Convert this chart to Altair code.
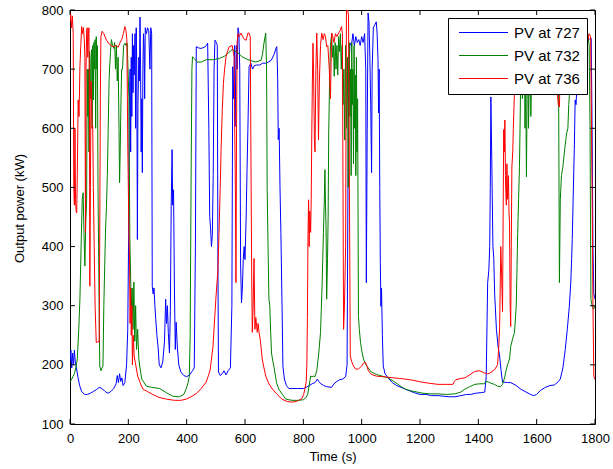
import altair as alt
import pandas as pd

# ---- data (time s, output power kW) ----
pv727 = [
(0,205),(3,225),(6,195),(9,220),(12,200),(15,225),(18,205),(22,195),(27,180),(33,165),(40,155),(50,150),(60,150),(70,152),(80,155),(90,158),(100,162),(110,160),(120,155),(130,152),(140,155),(150,160),(158,168),(162,182),(166,170),(170,185),(174,172),(178,178),(182,165),(188,170),(194,200),(198,260),(201,420),(203,620),(206,700),(208,560),(210,720),(212,620),(214,760),(216,660),(218,740),(220,690),(223,760),(225,600),(227,770),(229,700),(231,412),(233,640),(236,720),(238,680),(240,788),(242,700),(244,560),(246,650),(248,525),(250,700),(252,760),(254,740),(256,650),(258,770),(262,760),(266,770),(270,765),(274,700),(277,770),(280,760),(282,333),(285,320),(288,330),(291,300),(294,277),(298,250),(302,230),(306,200),(312,195),(318,205),(324,240),(328,311),(331,270),(334,300),(337,255),(341,220),(344,290),(347,470),(350,564),(352,470),(355,496),(358,330),(361,226),(364,272),(368,230),(373,200),(380,188),(390,182),(400,180),(410,183),(420,190),(426,195),(430,400),(433,738),(440,736),(450,735),(460,737),(468,740),(472,744),(476,600),(479,451),(482,430),(485,400),(488,420),(491,520),(494,700),(497,749),(502,745),(505,740),(507,400),(509,188),(515,182),(522,185),(528,190),(535,183),(542,190),(550,195),(555,300),(558,704),(561,650),(564,740),(566,603),(568,680),(570,740),(573,700),(576,770),(579,761),(582,700),(585,367),(588,305),(591,330),(594,378),(597,400),(600,378),(604,450),(607,530),(610,600),(614,704),(620,710),(626,700),(632,706),(640,707),(650,707),(660,710),(670,710),(680,712),(690,715),(700,725),(706,735),(709,738),(712,687),(714,581),(717,600),(720,500),(723,424),(727,300),(730,198),(735,176),(742,165),(750,160),(760,160),(780,160),(800,160),(810,162),(820,165),(830,168),(840,170),(848,176),(853,172),(860,168),(870,165),(880,163),(897,162),(905,168),(915,172),(925,175),(935,176),(945,180),(950,200),(953,500),(956,700),(960,744),(965,740),(970,760),(975,740),(980,755),(985,745),(990,750),(995,740),(1000,755),(1005,745),(1010,760),(1014,700),(1016,339),(1019,600),(1022,795),(1025,780),(1028,721),(1031,640),(1034,525),(1036,700),(1040,770),(1045,775),(1050,780),(1053,760),(1056,716),(1058,626),(1060,700),(1062,500),(1064,373),(1066,299),(1068,330),(1071,250),(1074,198),(1080,185),(1091,178),(1105,170),(1120,165),(1135,162),(1149,159),(1165,156),(1180,153),(1200,150),(1220,150),(1240,148),(1262,148),(1280,147),(1300,146),(1320,146),(1340,148),(1360,150),(1374,150),(1390,152),(1410,153),(1422,154),(1427,180),(1432,339),(1436,360),(1439,400),(1441,500),(1443,653),(1446,550),(1450,400),(1453,380),(1456,320),(1462,260),(1468,230),(1473,215),(1478,190),(1483,171),(1500,170),(1511,170),(1530,165),(1545,159),(1560,155),(1579,150),(1590,148),(1600,150),(1613,157),(1630,162),(1645,165),(1661,166),(1675,172),(1681,176),(1690,195),(1698,226),(1705,260),(1712,299),(1717,340),(1720,380),(1722,412),(1725,480),(1729,564),(1732,648),(1735,640),(1739,680),(1743,700),(1746,716),(1750,730),(1756,744),(1765,748),(1775,748),(1783,752),(1787,752),(1790,600),(1793,400),(1796,320),(1800,311)]

pv732 = [
(0,171),(5,175),(10,180),(15,185),(20,195),(25,210),(30,260),(34,311),(38,400),(42,480),(45,491),(48,420),(51,367),(54,440),(57,479),(59,700),(61,620),(63,700),(65,560),(67,730),(70,650),(72,720),(74,733),(76,600),(78,740),(80,648),(82,745),(84,700),(86,750),(88,600),(90,755),(92,700),(94,740),(96,500),(98,400),(100,300),(102,198),(106,190),(110,195),(113,198),(116,300),(119,367),(122,430),(125,468),(128,520),(131,600),(134,680),(136,704),(139,730),(142,750),(146,740),(150,735),(153,745),(156,700),(159,740),(162,680),(165,720),(168,600),(170,508),(172,560),(175,650),(177,700),(180,700),(184,740),(188,744),(192,740),(196,744),(199,700),(202,650),(205,420),(207,367),(210,300),(213,330),(216,260),(219,340),(222,240),(225,300),(228,226),(232,260),(236,210),(239,198),(243,185),(246,176),(254,170),(262,164),(280,162),(307,160),(330,153),(352,147),(375,146),(390,150),(398,159),(405,170),(409,181),(412,250),(415,500),(418,700),(420,721),(426,718),(436,712),(450,712),(467,716),(490,716),(512,718),(530,722),(556,733),(575,728),(590,721),(610,716),(637,712),(655,715),(660,725),(665,744),(671,761),(674,700),(676,500),(679,400),(682,311),(685,300),(688,255),(691,220),(694,210),(700,195),(708,170),(716,159),(728,150),(740,142),(761,140),(784,140),(800,141),(808,144),(815,150),(820,165),(825,181),(830,180),(835,181),(840,180),(846,190),(852,215),(859,255),(864,330),(869,424),(872,480),(874,530),(876,470),(878,430),(880,311),(883,380),(885,450),(887,592),(890,680),(893,740),(897,761),(900,720),(903,740),(906,688),(909,745),(912,700),(915,740),(918,690),(921,755),(924,730),(927,760),(930,700),(933,740),(936,640),(939,700),(942,580),(945,740),(948,600),(951,720),(954,500),(957,745),(960,620),(962,700),(964,520),(966,745),(968,640),(970,700),(972,540),(974,740),(976,600),(978,690),(980,520),(982,720),(984,560),(986,650),(989,282),(992,260),(996,238),(1001,222),(1006,210),(1015,200),(1025,193),(1033,188),(1050,184),(1070,181),(1091,178),(1110,172),(1130,165),(1149,159),(1170,156),(1190,154),(1210,152),(1235,151),(1262,151),(1290,150),(1320,151),(1340,154),(1354,159),(1370,163),(1388,167),(1405,168),(1420,168),(1426,172),(1435,171),(1443,169),(1455,167),(1466,164),(1475,163),(1483,167),(1490,178),(1494,188),(1500,200),(1507,210),(1511,231),(1518,245),(1524,255),(1530,300),(1535,424),(1538,480),(1541,535),(1543,600),(1545,676),(1548,720),(1551,650),(1554,700),(1556,740),(1558,761),(1560,600),(1562,700),(1565,518),(1567,650),(1570,730),(1572,600),(1575,700),(1578,740),(1580,620),(1583,700),(1586,740),(1589,760),(1592,770),(1600,760),(1620,765),(1640,760),(1660,755),(1670,740),(1675,700),(1678,339),(1681,479),(1685,520),(1690,535),(1695,560),(1700,581),(1703,592),(1707,600),(1710,640),(1714,670),(1718,700),(1725,740),(1740,750),(1760,755),(1775,760),(1780,740),(1783,600),(1786,311),(1790,300),(1795,294),(1800,300)]

pv736 = [
(0,780),(2,795),(5,770),(8,790),(11,760),(13,500),(15,470),(17,600),(19,480),(21,460),(23,457),(25,520),(28,648),(31,620),(34,704),(37,740),(40,772),(43,760),(46,770),(49,750),(51,720),(53,424),(55,700),(57,765),(59,770),(61,720),(63,760),(65,770),(67,600),(68,333),(70,500),(72,680),(74,650),(76,600),(78,603),(80,500),(83,400),(86,300),(90,238),(93,238),(97,240),(100,238),(102,424),(104,650),(106,755),(110,764),(116,760),(125,749),(135,742),(148,738),(158,740),(165,737),(172,745),(177,750),(183,760),(188,772),(192,765),(195,750),(198,575),(200,500),(202,420),(204,380),(206,270),(208,330),(210,250),(212,300),(214,200),(217,250),(220,215),(224,204),(232,181),(242,168),(250,159),(265,155),(284,150),(305,145),(331,142),(358,140),(380,140),(398,142),(415,146),(432,151),(450,160),(467,171),(480,190),(490,230),(500,311),(507,360),(511,424),(515,500),(518,564),(522,630),(526,676),(530,700),(535,721),(540,730),(546,738),(556,740),(563,720),(565,592),(567,500),(569,339),(571,600),(573,745),(576,760),(580,755),(586,761),(592,755),(598,750),(604,749),(610,761),(614,761),(618,755),(621,500),(623,350),(625,255),(628,300),(631,380),(634,260),(637,280),(642,255),(645,270),(648,256),(653,240),(659,210),(665,195),(671,181),(682,168),(694,159),(710,150),(727,142),(745,138),(761,137),(775,138),(784,140),(795,143),(801,150),(806,160),(810,172),(812,200),(814,280),(816,420),(818,479),(820,400),(822,460),(825,424),(827,479),(829,592),(831,680),(833,744),(835,700),(838,580),(840,560),(843,700),(846,761),(849,700),(852,580),(855,680),(859,740),(863,761),(868,750),(872,760),(876,755),(880,738),(884,740),(889,700),(893,650),(897,761),(901,755),(905,745),(910,760),(915,755),(921,761),(926,765),(931,772),(934,760),(936,500),(938,260),(941,300),(945,400),(947,700),(948,800),(952,800),(955,790),(958,500),(961,215),(966,205),(972,198),(979,193),(989,193),(1000,198),(1008,204),(1013,204),(1018,198),(1023,190),(1033,184),(1050,181),(1070,180),(1091,179),(1110,178),(1130,177),(1149,176),(1175,174),(1204,171),(1230,169),(1262,167),(1290,167),(1313,167),(1318,172),(1323,175),(1340,177),(1354,178),(1370,183),(1388,189),(1405,190),(1422,186),(1432,185),(1439,186),(1450,190),(1456,192),(1466,200),(1470,230),(1473,265),(1475,330),(1477,400),(1480,350),(1483,290),(1485,450),(1487,598),(1489,560),(1491,614),(1493,520),(1494,496),(1496,470),(1498,540),(1500,480),(1503,520),(1505,460),(1507,440),(1509,300),(1511,265),(1513,400),(1515,535),(1518,560),(1520,600),(1524,665),(1530,720),(1540,750),(1560,760),(1580,765),(1600,760),(1620,760),(1640,755),(1660,750),(1668,720),(1671,660),(1674,640),(1678,636),(1681,700),(1690,740),(1710,755),(1730,760),(1750,760),(1770,758),(1776,749),(1780,760),(1785,755),(1790,500),(1793,300),(1796,181),(1800,175)]

series_names = ["PV at 727", "PV at 732", "PV at 736"]
series_colors = ["#0000FF", "#008000", "#FF0000"]
x_ticks = [0, 200, 400, 600, 800, 1000, 1200, 1400, 1600, 1800]
y_ticks = [100, 200, 300, 400, 500, 600, 700, 800]

rows = []
for name, pts in zip(series_names, [pv727, pv732, pv736]):
    for t, v in pts:
        rows.append({"t": t, "p": v, "series": name})
df = pd.DataFrame(rows)

W, H = 525, 414
FONT = "Liberation Sans"

xscale = alt.Scale(domain=[0, 1800], nice=False, zero=False)
yscale = alt.Scale(domain=[100, 800], nice=False, zero=False)

lines = alt.Chart(df).mark_line(strokeWidth=1, clip=True).encode(
    x=alt.X("t:Q", scale=xscale, title="Time (s)",
            axis=alt.Axis(values=x_ticks, format="d", ticks=False, domain=False, grid=False,
                          labelFontSize=13, labelPadding=8, titleFontSize=13,
                          titlePadding=5, titleFontWeight="normal", labelFlush=False)),
    y=alt.Y("p:Q", scale=yscale, title="Output power (kW)",
            axis=alt.Axis(values=y_ticks, format="d", ticks=False, domain=False, grid=False,
                          labelFontSize=13, labelPadding=7, titleFontSize=13,
                          titlePadding=15, titleFontWeight="normal", labelFlush=False,
                          titleY=198)),
    color=alt.Color("series:N",
                    scale=alt.Scale(domain=series_names, range=series_colors),
                    legend=alt.Legend(title=None, orient="none", legendX=378, legendY=8,
                                      symbolType="M-5,0L5,0", symbolSize=96,
                                      symbolOffset=21, symbolStrokeWidth=1,
                                      symbolFillColor="transparent",
                                      labelFontSize=15, labelOffset=23,
                                      labelFont=FONT, labelColor="black",
                                      fillColor="white", strokeColor="black",
                                      padding=7, rowPadding=7)),
)

xt = pd.DataFrame({"t": x_ticks})
yt = pd.DataFrame({"p": y_ticks})

tick_bottom = alt.Chart(xt).mark_rule(color="black", strokeWidth=1).encode(
    x=alt.X("t:Q", scale=xscale), y=alt.value(H), y2=alt.value(H - 5))
tick_top = alt.Chart(xt).mark_rule(color="black", strokeWidth=1).encode(
    x=alt.X("t:Q", scale=xscale), y=alt.value(0), y2=alt.value(5))
tick_left = alt.Chart(yt).mark_rule(color="black", strokeWidth=1).encode(
    y=alt.Y("p:Q", scale=yscale), x=alt.value(0), x2=alt.value(5))
tick_right = alt.Chart(yt).mark_rule(color="black", strokeWidth=1).encode(
    y=alt.Y("p:Q", scale=yscale), x=alt.value(W), x2=alt.value(W - 5))

chart = alt.layer(lines, tick_bottom, tick_top, tick_left, tick_right).properties(
    width=W, height=H,
    autosize=alt.AutoSizeParams(type="none"),
    padding={"left": 70, "top": 10, "right": 18, "bottom": 45},
    background="white",
).configure_view(stroke="black", strokeWidth=1).configure_axis(
    labelFont=FONT, titleFont=FONT, labelColor="black", titleColor="black"
)

chart.save("out.html", embed_options={"renderer": "svg", "actions": False})
